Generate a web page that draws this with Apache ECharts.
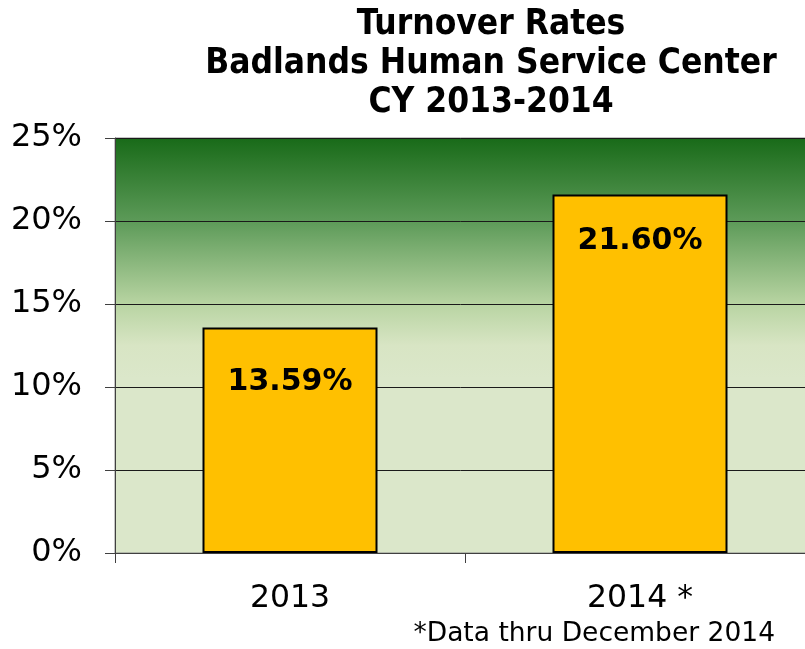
<!DOCTYPE html>
<html><head><meta charset="utf-8">
<script src="https://cdn.jsdelivr.net/npm/echarts@6/dist/echarts.min.js"></script>
<style>html,body{margin:0;padding:0;background:#fff}#c{width:805px;height:649px}</style>
</head><body><div id="c"></div>
<script>
var categories = ['2013', '2014 *'];
var values = [13.59, 21.60];
var yTicks = [0, 5, 10, 15, 20, 25];
var labelDist = [40, 32];

var chart = echarts.init(document.getElementById('c'));
chart.setOption({
  animation: false,
  title: {
    text: 'Turnover Rates\nBadlands Human Service Center\nCY 2013-2014',
    left: 486, top: 0, textAlign: 'center',
    textStyle: { fontFamily: 'DejaVu Sans Condensed, DejaVu Sans', fontWeight: 'bold', fontSize: 35, lineHeight: 39, color: '#000' }
  },
  graphic: [{
    type: 'text', right: 30, top: 621,
    style: { text: '*Data thru December 2014', font: '26.5px "DejaVu Sans"', fill: '#000' }
  }],
  grid: {
    left: 115, width: 700, top: 138, bottom: 96, show: true,
    containLabel: false, outerBoundsMode: 'none',
    borderColor: '#8a8a8a', borderWidth: 1,
    backgroundColor: new echarts.graphic.LinearGradient(0, 0, 0, 1, [
      { offset: 0, color: '#186a18' },
      { offset: 0.2, color: '#5c9a58' },
      { offset: 0.4, color: '#b8d4a2' },
      { offset: 0.5, color: '#d8e5c4' },
      { offset: 0.58, color: '#dbe7ca' },
      { offset: 1, color: '#dbe7ca' }
    ])
  },
  xAxis: {
    type: 'category', data: categories,
    axisLine: { lineStyle: { color: '#404040', width: 1 } },
    axisTick: { show: true, length: 10, lineStyle: { color: '#404040' } },
    axisLabel: { fontFamily: 'DejaVu Sans', fontSize: 31.5, color: '#000', margin: 30 }
  },
  yAxis: {
    type: 'value', min: yTicks[0], max: yTicks[yTicks.length - 1], interval: 5,
    axisLine: { show: true, lineStyle: { color: '#404040', width: 1 } },
    axisTick: { show: true, length: 10, lineStyle: { color: '#404040' } },
    splitLine: { lineStyle: { color: '#1a1a1a', width: 1 } },
    axisLabel: { fontFamily: 'DejaVu Sans', fontSize: 32, color: '#000', margin: 33, formatter: '{value}%' }
  },
  series: [{
    type: 'bar', barWidth: '50%',
    data: values.map(function (v, i) {
      return { value: v, label: { distance: labelDist[i] } };
    }),
    itemStyle: { color: '#FFC000', borderColor: '#000', borderWidth: 2 },
    label: {
      show: true, position: 'insideTop',
      fontFamily: 'DejaVu Sans', fontWeight: 'bold', fontSize: 30, color: '#000',
      formatter: function (p) { return p.value.toFixed(2) + '%'; }
    }
  }]
});
</script></body></html>
